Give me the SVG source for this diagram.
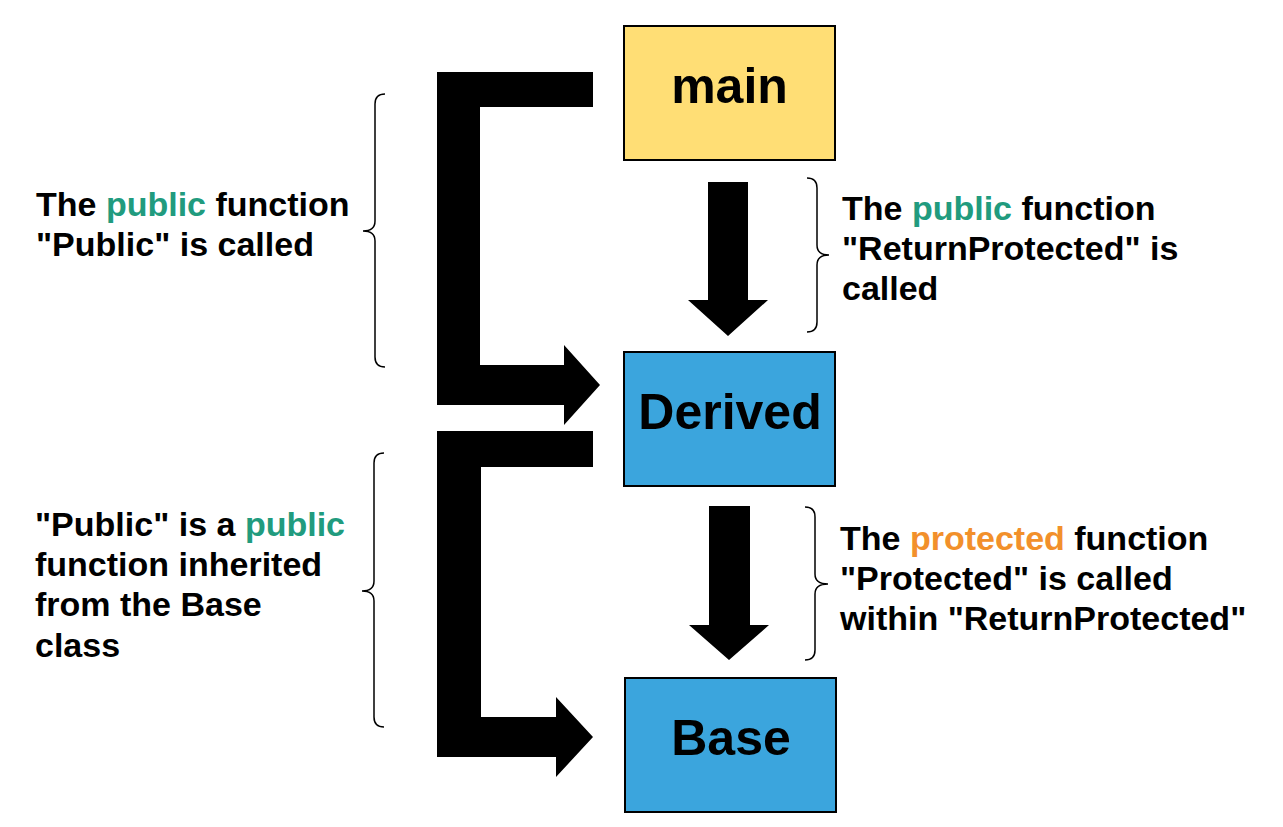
<svg xmlns="http://www.w3.org/2000/svg" width="1283" height="827" viewBox="0 0 1283 827">
<style>
.box{stroke:#000;stroke-width:2}
.lbl{font-family:"Liberation Sans",Arial,sans-serif;font-weight:bold;font-size:50px;fill:#000;text-anchor:middle}
.txt{font-family:"Liberation Sans",Arial,sans-serif;font-weight:bold;font-size:34px;fill:#000}
.pub{fill:#219B7E}
.pro{fill:#F2902B}
.brace{fill:none;stroke:#000;stroke-width:1.5}
.arr{fill:#000}
</style>
<rect width="1283" height="827" fill="#fff"/>
<g id="connectors">
<path class="arr" d="M437,72 L593,72 L593,107 L480,107 L480,365 L564,365 L564,345 L600,385 L564,425 L564,405 L437,405 Z"/>
<path class="arr" d="M437,431 L593,431 L593,467 L481,467 L481,717 L556,717 L556,697 L593,737 L556,777 L556,757 L437,757 Z"/>
<path class="arr" d="M708,182 L748,182 L748,300 L768,300 L728,336 L688,300 L708,300 Z"/>
<path class="arr" d="M709,506 L750,506 L750,625 L769,625 L729,660 L689,625 L709,625 Z"/>
</g>
<g id="main">
<rect class="box" x="624" y="26" width="211" height="134" fill="#FFDE75"/>
<text class="lbl" x="729.5" y="103">main</text>
</g>
<g id="derived">
<rect class="box" x="624" y="352" width="211" height="134" fill="#3BA5DD"/>
<text class="lbl" x="730" y="429">Derived</text>
</g>
<g id="base">
<rect class="box" x="625" y="678" width="211" height="134" fill="#3BA5DD"/>
<text class="lbl" x="731" y="755">Base</text>
</g>
<g id="note-left-1">
<path class="brace" d="M385,94 Q375,94 375,104 L375,221 Q375,231 363,231 Q375,231 375,241 L375,357 Q375,367 385,367"/>
<text class="txt" x="36" y="216">The <tspan class="pub">public</tspan> function</text>
<text class="txt" x="36" y="256">"Public" is called</text>
</g>
<g id="note-right-1">
<path class="brace" d="M807,178 Q817,178 817,188 L817,245 Q817,255 829,255 Q817,255 817,265 L817,322 Q817,332 807,332"/>
<text class="txt" x="842" y="220">The <tspan class="pub">public</tspan> function</text>
<text class="txt" x="842" y="260">"ReturnProtected" is</text>
<text class="txt" x="842" y="300">called</text>
</g>
<g id="note-left-2">
<path class="brace" d="M384,453 Q374,453 374,463 L374,581 Q374,591 362,591 Q374,591 374,601 L374,717 Q374,727 384,727"/>
<text class="txt" x="35" y="536">"Public" is a <tspan class="pub">public</tspan></text>
<text class="txt" x="35" y="576">function inherited</text>
<text class="txt" x="35" y="616">from the Base</text>
<text class="txt" x="35" y="657">class</text>
</g>
<g id="note-right-2">
<path class="brace" d="M805,507 Q815,507 815,517 L815,574 Q815,584 828,584 Q815,584 815,594 L815,650 Q815,660 805,660"/>
<text class="txt" x="840" y="550">The <tspan class="pro">protected</tspan> function</text>
<text class="txt" x="840" y="590">"Protected" is called</text>
<text class="txt" x="840" y="630">within "ReturnProtected"</text>
</g>
</svg>
